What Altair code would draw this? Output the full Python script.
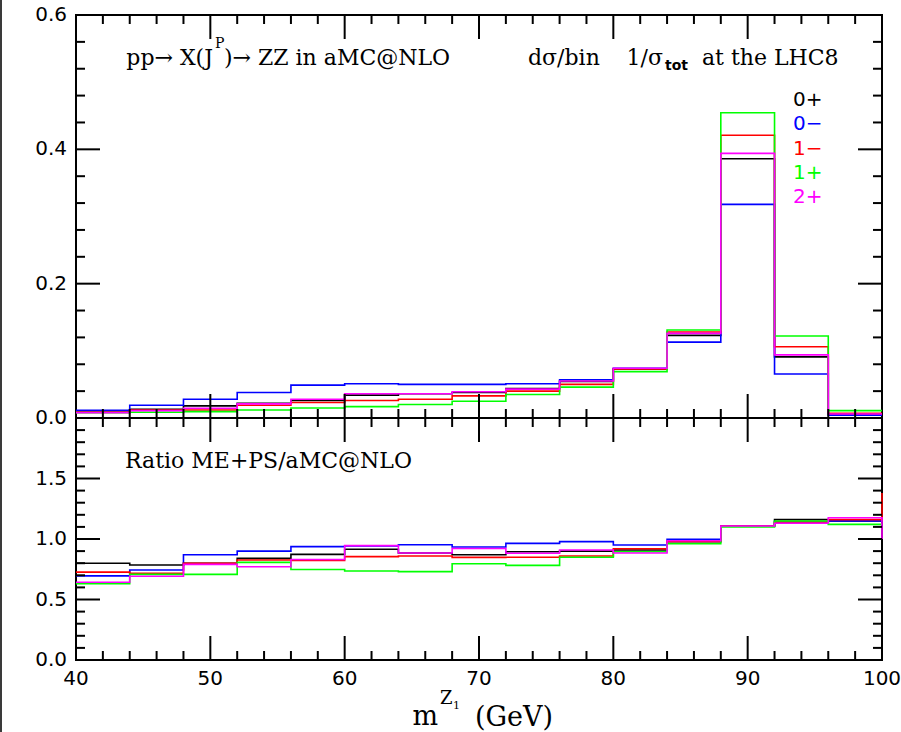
import altair as alt
import pandas as pd

# ---------------------------------------------------------------- data
# left edges of the 4 GeV bins in m^{Z1}; the last bin closes at 100 GeV
bin_lo = [40, 44, 48, 52, 56, 60, 64, 68, 72, 76, 80, 84, 88, 92, 96]
x_end = 100

series = ["0+", "0−", "1−", "1+", "2+"]
colors = ["#000000", "#0000ff", "#ff0000", "#00ff00", "#ff00ff"]

# normalised distributions  dsigma/bin * 1/sigma_tot
dist_0p = [0.009, 0.013, 0.018, 0.022, 0.026, 0.034, 0.036, 0.038, 0.044, 0.0545,
           0.073, 0.123, 0.386, 0.091, 0.006]
dist_0m = [0.0115, 0.019, 0.028, 0.038, 0.049, 0.051, 0.050, 0.050, 0.051, 0.057,
           0.074, 0.113, 0.318, 0.0655, 0.004]
dist_1m = [0.009, 0.012, 0.012, 0.019, 0.023, 0.026, 0.028, 0.033, 0.040, 0.050,
           0.073, 0.128, 0.421, 0.106, 0.007]
dist_1p = [0.008, 0.0085, 0.0095, 0.012, 0.015, 0.017, 0.020, 0.025, 0.035, 0.046,
           0.069, 0.131, 0.4545, 0.122, 0.011]
dist_2p = [0.008, 0.011, 0.0145, 0.021, 0.028, 0.036, 0.036, 0.039, 0.043, 0.055,
           0.074, 0.126, 0.394, 0.094, 0.006]

# ratio ME+PS / aMC@NLO
ratio_0p = [0.80, 0.785, 0.80, 0.84, 0.873, 0.915, 0.884, 0.87, 0.895, 0.90,
            0.909, 0.978, 1.107, 1.16, 1.15]
ratio_0m = [0.695, 0.744, 0.87, 0.90, 0.937, 0.942, 0.953, 0.934, 0.964, 0.978,
            0.95, 0.997, 1.107, 1.14, 1.15]
ratio_1m = [0.726, 0.716, 0.80, 0.826, 0.823, 0.854, 0.86, 0.848, 0.849, 0.86,
            0.92, 0.98, 1.107, 1.14, 1.16]
ratio_1p = [0.63, 0.708, 0.708, 0.807, 0.748, 0.735, 0.73, 0.796, 0.782, 0.849,
            0.895, 0.961, 1.10, 1.149, 1.121]
ratio_2p = [0.642, 0.692, 0.79, 0.771, 0.83, 0.945, 0.884, 0.922, 0.882, 0.909,
            0.884, 0.985, 1.107, 1.13, 1.176]
# ratio in the bin just above 100 GeV (only its rising/falling edge is visible)
ratio_above = [1.15, 1.15, 1.38, 1.121, 1.0]

dists = [dist_0p, dist_0m, dist_1m, dist_1p, dist_2p]
ratios = [ratio_0p, ratio_0m, ratio_1m, ratio_1p, ratio_2p]

# axis ticks and labels
x_major = [50, 60, 70, 80, 90]
x_minor = [42, 44, 46, 48, 52, 54, 56, 58, 62, 64, 66, 68, 72, 74, 76, 78,
           82, 84, 86, 88, 92, 94, 96, 98]
x_labels = [40, 50, 60, 70, 80, 90, 100]
top_major = [0.2, 0.4]
top_minor = [0.04, 0.08, 0.12, 0.16, 0.24, 0.28, 0.32, 0.36, 0.44, 0.48, 0.52, 0.56]
top_labels = [0.0, 0.2, 0.4, 0.6]
bot_major = [0.5, 1.0, 1.5]
bot_minor = [0.1, 0.2, 0.3, 0.4, 0.6, 0.7, 0.8, 0.9, 1.1, 1.2, 1.3, 1.4,
             1.6, 1.7, 1.8, 1.9]
bot_labels = [0.0, 0.5, 1.0, 1.5]

# ---------------------------------------------------------------- layout
W, H = 806, 645
H_TOP = 403
MAJ, MIN = 24, 9
SANS = "DejaVu Sans"
SERIF = "DejaVu Serif"

xs = alt.Scale(domain=[40, 100])
ys_top = alt.Scale(domain=[0, 0.6], range=[H_TOP, 0])
ys_bot = alt.Scale(domain=[0, 2.0], range=[H, H_TOP])
X = lambda f: alt.X(f, type="quantitative", scale=xs, axis=None)


def step_line(lo, vals, tail, yscale, color, clip):
    df = pd.DataFrame({"x": lo + [x_end], "v": vals + [tail]})
    return alt.Chart(df).mark_line(
        interpolate="step-after", color=color, strokeWidth=1.6, clip=clip
    ).encode(x=X("x"), y=alt.Y("v:Q", scale=yscale, axis=None))


def xticks(vals, y0, y1):
    return alt.Chart(pd.DataFrame({"v": vals})).mark_rule(
        color="black", strokeWidth=2
    ).encode(x=X("v"), y=alt.value(y0), y2=alt.value(y1))


def yticks(vals, yscale, x0, x1):
    return alt.Chart(pd.DataFrame({"v": vals})).mark_rule(
        color="black", strokeWidth=2
    ).encode(y=alt.Y("v:Q", scale=yscale, axis=None), x=alt.value(x0), x2=alt.value(x1))


def label(text, x, y, size, font=SERIF, align="left", weight="normal", color="black"):
    return alt.Chart(pd.DataFrame({"t": [text]})).mark_text(
        align=align, baseline="alphabetic", font=font, fontSize=size,
        fontWeight=weight, color=color
    ).encode(x=alt.value(x), y=alt.value(y), text="t:N")


layers = []

# histograms
for vals, col in zip(dists, colors):
    layers.append(step_line(bin_lo, vals, vals[-1], ys_top, col, True))
for vals, above, col in zip(ratios, ratio_above, colors):
    layers.append(step_line(bin_lo, vals, above, ys_bot, col, False))

# separator between the two panels
layers.append(
    alt.Chart(pd.DataFrame({"v": [0.0]})).mark_rule(color="black", strokeWidth=2)
    .encode(y=alt.Y("v:Q", scale=ys_top, axis=None), x=alt.value(0), x2=alt.value(W))
)

# x ticks: top edge, separator (both sides), bottom edge
for vals, L in ((x_major, MAJ), (x_minor, MIN)):
    layers.append(xticks(vals, 0, L))
    layers.append(xticks(vals, H_TOP - L, H_TOP + L))
    layers.append(xticks(vals, H - L, H))

# y ticks on left and right edges of both panels
for vals, sc, L in ((top_major, ys_top, MAJ), (top_minor, ys_top, MIN),
                    (bot_major, ys_bot, MAJ), (bot_minor, ys_bot, MIN)):
    layers.append(yticks(vals, sc, 0, L))
    layers.append(yticks(vals, sc, W - L, W))

# tick labels
for vals, sc in ((top_labels, ys_top), (bot_labels, ys_bot)):
    df = pd.DataFrame({"v": vals, "t": [f"{v:.1f}" for v in vals]})
    layers.append(
        alt.Chart(df).mark_text(align="right", baseline="middle", font=SANS, fontSize=20)
        .encode(y=alt.Y("v:Q", scale=sc, axis=None), x=alt.value(-9), text="t:N")
    )
df_xl = pd.DataFrame({"v": x_labels, "t": [str(v) for v in x_labels]})
layers.append(
    alt.Chart(df_xl).mark_text(align="center", baseline="middle", font=SANS, fontSize=20)
    .encode(x=X("v"), y=alt.value(H + 19), text="t:N")
)

# x-axis title  m^{Z_1} (GeV)
layers += [
    label("m", 362, 710, 27, align="right"),
    label("Z", 364, 689, 18),
    label("1", 377, 694, 11),
    label("(GeV)", 399, 711, 27),
]

# panel annotations
layers += [
    label("pp→ X(J", 137, 50, 22, align="right"),
    label("P", 139, 33, 14),
    label(")→ ZZ in aMC@NLO", 148, 50, 22),
    label("dσ/bin", 452, 50, 22),
    label("1/σ", 587, 50, 22, align="right"),
    label("tot", 589, 55, 14, font=SANS, weight="bold"),
    label("at the LHC8", 626, 50, 22),
    label("Ratio ME+PS/aMC@NLO", 49, 453, 22),
]

# legend
for i, (name, col) in enumerate(zip(series, colors)):
    layers.append(label(name, 717, 91 + 24.3 * i, 20, font=SANS, color=col))

# left border line of the page
layers.append(
    alt.Chart(pd.DataFrame({"v": [0]})).mark_rule(color="#3a3a3a", strokeWidth=2)
    .encode(x=alt.value(-75), y=alt.value(-15), y2=alt.value(H + 72))
)

chart = (
    alt.layer(*layers)
    .resolve_scale(y="independent")
    .properties(
        width=W, height=H,
        padding={"left": 76, "top": 15, "right": 19, "bottom": 72},
        autosize=alt.AutoSizeParams(type="none"),
        background="white",
    )
    .configure_view(stroke="black", strokeWidth=2)
)

chart.save("out.html", embed_options={"renderer": "svg", "actions": False})
